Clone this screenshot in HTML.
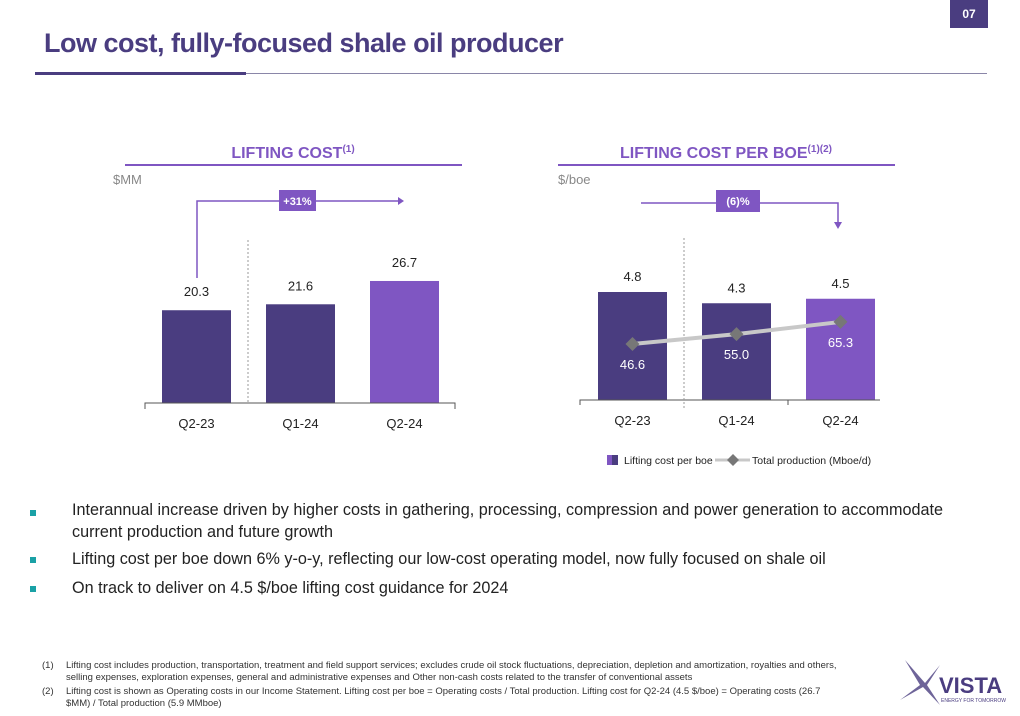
<!DOCTYPE html>
<html><head><meta charset="utf-8"><style>
body{margin:0;width:1020px;height:716px;background:#fff;font-family:"Liberation Sans",sans-serif;position:relative;overflow:hidden}
.a{position:absolute}
.b{position:absolute;left:72px;font-size:16.2px;color:#222;line-height:22px}
.sq{position:absolute;left:30px;width:6px;height:6px;background:#1aa1a6}
.fn{position:absolute;font-size:9.5px;color:#333;line-height:12px}
</style></head><body>
<div class="a" style="left:950px;top:0;width:38px;height:28px;background:#4a3d80;color:#fff;font-size:12px;font-weight:bold;text-align:center;line-height:28px">07</div>
<div class="a" style="left:44px;top:28px;font-size:27px;font-weight:bold;color:#4a3d80;letter-spacing:-0.5px">Low cost, fully-focused shale oil producer</div>
<div class="a" style="left:35px;top:73px;width:952px;height:1px;background:#8a86a8"></div>
<div class="a" style="left:35px;top:72px;width:211px;height:3px;background:#4a3d80"></div>

<svg class="a" style="left:0;top:0" width="1020" height="716" font-family="Liberation Sans, sans-serif">
<g id="c1"></g>
<g id="c2"></g>
</svg>

<div class="sq" style="top:510px"></div>
<div class="b" style="top:499px">Interannual increase driven by higher costs in gathering, processing, compression and power generation to accommodate<br>current production and future growth</div>
<div class="sq" style="top:557px"></div>
<div class="b" style="top:548px">Lifting cost per boe down 6% y-o-y, reflecting our low-cost operating model, now fully focused on shale oil</div>
<div class="sq" style="top:586px"></div>
<div class="b" style="top:577px">On track to deliver on 4.5 $/boe lifting cost guidance for 2024</div>

<div class="fn" style="left:42px;top:660px">(1)</div>
<div class="fn" style="left:66px;top:660px;width:800px">Lifting cost includes production, transportation, treatment and field support services; excludes crude oil stock fluctuations, depreciation, depletion and amortization, royalties and others, selling expenses, exploration expenses, general and administrative expenses and Other non-cash costs related to the transfer of conventional assets</div>
<div class="fn" style="left:42px;top:686px">(2)</div>
<div class="fn" style="left:66px;top:686px;width:780px">Lifting cost is shown as Operating costs in our Income Statement. Lifting cost per boe = Operating costs / Total production. Lifting cost for Q2-24 (4.5 $/boe) = Operating costs (26.7 $MM) / Total production (5.9 MMboe)</div>

<svg class="a" style="left:895px;top:655px" width="120" height="55">
<path d="M10 5 L30 28 L45 10 L32 30 L45 50 L28 32 L5 45 L25 30 Z" fill="#4a3d80" opacity="0.8"/>
<text x="44" y="38" font-size="22" font-weight="bold" fill="#4a3d80" font-family="Liberation Sans, sans-serif">VISTA</text>
<text x="46" y="47" font-size="5" fill="#4a3d80" font-family="Liberation Sans, sans-serif">ENERGY FOR TOMORROW</text>
</svg>

<script>
const cats=["Q2-23","Q1-24","Q2-24"];
const cost=[20.3,21.6,26.7];
const perBoe=[4.8,4.3,4.5];
const prod=[46.6,55.0,65.3];
const costLabels=["20.3","21.6","26.7"];
const boeLabels=["4.8","4.3","4.5"];
const prodLabels=["46.6","55.0","65.3"];
const colors=["#4a3d80","#4a3d80","#7f56c2"];
const NS="http://www.w3.org/2000/svg";
function mk(p,t,a,txt){const e=document.createElementNS(NS,t);for(const k in a)e.setAttribute(k,a[k]);if(txt!==undefined)e.textContent=txt;p.appendChild(e);return e;}
function txt(p,x,y,s,o){return mk(p,"text",Object.assign({x:x,y:y,"text-anchor":"middle","font-size":13,fill:"#222"},o||{}),s);}

// chart 1
const g1=document.getElementById("c1");
const y1=v=>403-v*4.57;
const x1=i=>162+i*104;
let h=txt(g1,293,158,"LIFTING COST",{"font-size":16,"font-weight":"bold",fill:"#7f56c2"});


mk(h,"tspan",{dy:-6,"font-size":10},"(1)");
let r=mk(g1,"rect",{x:125,y:164,width:337,height:2,fill:"#7f56c2"});


let u=txt(g1,113,184,"$MM",{"text-anchor":"start",fill:"#888"});


cost.forEach((v,i)=>{
 const b=mk(g1,"rect",{x:x1(i),y:y1(v),width:69,height:403-y1(v),fill:colors[i]});
 
 
 const l=txt(g1,x1(i)+34.5,y1(v)-14,costLabels[i]);
 
 
 const c=txt(g1,x1(i)+34.5,428,cats[i]);
 
 
});
let ax=mk(g1,"path",{d:"M145 409 V403 H455 V409",stroke:"#555",fill:"none","stroke-width":1});


let d1=mk(g1,"line",{x1:248,y1:240,x2:248,y2:403,stroke:"#999","stroke-dasharray":"2,2"});


let cl=mk(g1,"path",{d:"M197 278 V201 H398",stroke:"#7f56c2",fill:"none","stroke-width":1.5});


let ar=mk(g1,"path",{d:"M398 197 L404 201 L398 205 Z",fill:"#7f56c2"});


let bx=mk(g1,"rect",{x:279,y:190,width:37,height:21,fill:"#7f56c2"});


txt(g1,297.5,205,"+31%",{fill:"#fff","font-size":11,"font-weight":"bold"});

// chart 2
const g2=document.getElementById("c2");
const y2=v=>400-v*22.5;
const yp=v=>344-(v-46.6)*1.18;
const x2=i=>598+i*104;
h=txt(g2,726,158,"LIFTING COST PER BOE",{"font-size":16,"font-weight":"bold",fill:"#7f56c2"});


mk(h,"tspan",{dy:-6,"font-size":10},"(1)(2)");
r=mk(g2,"rect",{x:558,y:164,width:337,height:2,fill:"#7f56c2"});


u=txt(g2,558,184,"$/boe",{"text-anchor":"start",fill:"#888"});


perBoe.forEach((v,i)=>{
 const b=mk(g2,"rect",{x:x2(i),y:y2(v),width:69,height:400-y2(v),fill:colors[i]});
 
 
 const l=txt(g2,x2(i)+34.5,y2(v)-11,boeLabels[i]);
 
 
 const c=txt(g2,x2(i)+34.5,425,cats[i]);
 
 
});
ax=mk(g2,"path",{d:"M580 405 V400 H880 M788 400 V405",stroke:"#555",fill:"none"});


d1=mk(g2,"line",{x1:684,y1:238,x2:684,y2:410,stroke:"#999","stroke-dasharray":"2,2"});


let pts=prod.map((v,i)=>(x2(i)+34.5)+","+yp(v)).join(" ");
let pl=mk(g2,"polyline",{points:pts,stroke:"#c8c8c8",fill:"none","stroke-width":4});


prod.forEach((v,i)=>{
 const cx=x2(i)+34.5,cy=yp(v);
 const m=mk(g2,"path",{d:`M${cx-7} ${cy} L${cx} ${cy-7} L${cx+7} ${cy} L${cx} ${cy+7} Z`,fill:"#777"});
 
 
 const l=txt(g2,cx,cy+25,prodLabels[i],{fill:"#fff"});
 
 
});
cl=mk(g2,"path",{d:"M641 203 H838 V222",stroke:"#7f56c2",fill:"none","stroke-width":1.5});


ar=mk(g2,"path",{d:"M834 222 L838 229 L842 222 Z",fill:"#7f56c2"});


bx=mk(g2,"rect",{x:716,y:190,width:44,height:22,fill:"#7f56c2"});


txt(g2,738,205,"(6)%",{fill:"#fff","font-size":11,"font-weight":"bold"});
// legend
let lg=mk(g2,"g",{});


mk(lg,"rect",{x:607,y:455,width:5,height:10,fill:"#7f56c2"});
mk(lg,"rect",{x:612,y:455,width:6,height:10,fill:"#4a3d80"});
txt(lg,624,464,"Lifting cost per boe",{"text-anchor":"start","font-size":10.5});
mk(lg,"line",{x1:715,y1:460,x2:750,y2:460,stroke:"#c8c8c8","stroke-width":3});
mk(lg,"path",{d:"M727 460 L733 454 L739 460 L733 466 Z",fill:"#777"});
txt(lg,752,464,"Total production (Mboe/d)",{"text-anchor":"start","font-size":10.5});
</script>
</body></html>
